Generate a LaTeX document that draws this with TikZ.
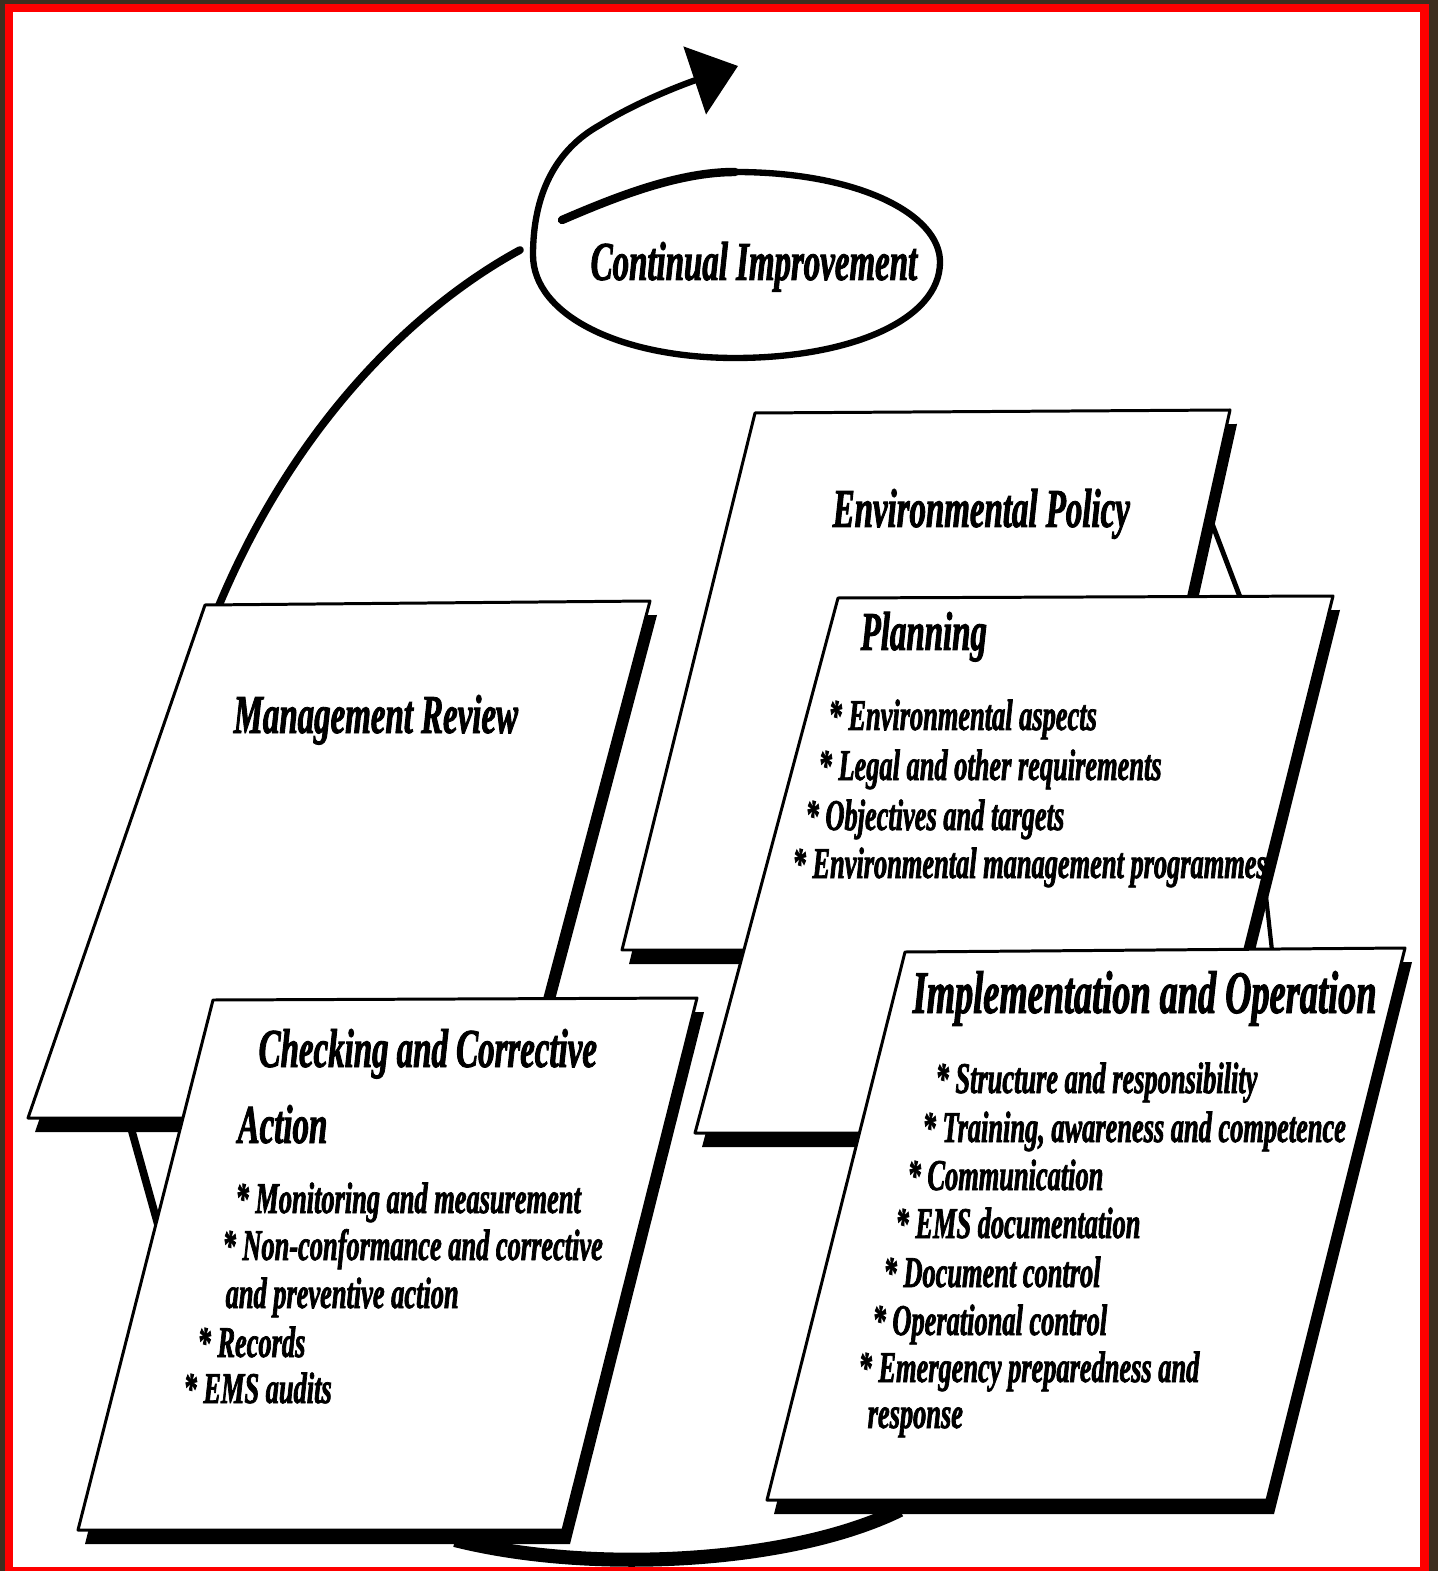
\documentclass[tikz,border=0pt]{standalone}
\usepackage{fontspec}
\newfontfamily\scanfont[FakeStretch=0.6, FakeBold=1.6]{Liberation Serif}
\usetikzlibrary{arrows.meta}

\definecolor{frame}{HTML}{3F2E1F}

\tikzset{
  panel/.style={fill=white, draw=black, line width=0.85pt, line join=round},
  shade/.style={fill=black, shift={(7,14)}},
  loop/.style={line width=2pt, line cap=round},
  head/.style={anchor=base west, inner sep=0pt,
    font=\scanfont\bfseries\itshape\fontsize{15.6}{18}\selectfont},
  item/.style={anchor=base west, inner sep=0pt,
    font=\scanfont\bfseries\itshape\fontsize{12.5}{15}\selectfont},
}

\begin{document}
\begin{tikzpicture}[x=0.01cm, y=-0.01cm]
  \useasboundingbox (0,0) rectangle (1438,1571);
  \fill[frame] (0,0) rectangle (1438,1571);
  \fill[red] (5,4) rectangle (1429,1571);
  \fill[white] (13,12) rectangle (1420,1567);

  % continual improvement loop
  \draw[line width=2.4pt, line cap=round] (562,220) .. controls (620,195) and (680,172) .. (735,172);
  \draw[line width=1.8pt, line cap=round, -{Triangle[length=13pt, width=20pt]}]
    (735,172) .. controls (860,172) and (940,215) .. (940,262)
    .. controls (940,320) and (850,358) .. (735,358)
    .. controls (620,358) and (533,315) .. (533,255)
    .. controls (533,195) and (555,150) .. (600,125)
    .. controls (640,100) and (690,82) .. (738,66);
  \node[head, anchor=base west] (ci) at (590,280) {Continual Improvement};

  % the cycle between the panels
  \draw[loop, line width=2.2pt] (215,615) .. controls (290,430) and (410,310) .. (520,250);
  \draw[loop, line width=1.4pt] (1205,505) -- (1243,605);
  \draw[loop, line width=1.2pt] (1262,860) -- (1273,960);
  \draw[loop, line width=2.2pt] (126,1110) -- (160,1232);
  \draw[line width=4pt] (455,1540) .. controls (590,1574) and (790,1564) .. (900,1510);

  % management review
  \fill[shade] (205,605) -- (650,601) -- (513,1118) -- (28,1118) -- cycle;
  \draw[panel] (205,605) -- (650,601) -- (513,1118) -- (28,1118) -- cycle;
  \node[head] (mr) at (233,733) {Management Review};

  % environmental policy
  \fill[shade] (755,413) -- (1230,410) -- (1110,950) -- (622,950) -- cycle;
  \draw[panel] (755,413) -- (1230,410) -- (1110,950) -- (622,950) -- cycle;
  \node[head] (ep) at (832,527) {Environmental Policy};

  % planning
  \fill[shade] (838,598) -- (1333,596) -- (1199,1133) -- (695,1133) -- cycle;
  \draw[panel] (838,598) -- (1333,596) -- (1199,1133) -- (695,1133) -- cycle;
  \node[head] (pl) at (860,650) {Planning};
  \foreach \x/\y/\t [count=\i] in {828/730/{* Environmental aspects},
      818/780/{* Legal and other requirements},
      805/830/{* Objectives and targets},
      792/878/{* Environmental management programmes}}
    \node[item] (pl\i) at (\x,\y) {\t};

  % checking and corrective action
  \fill[shade] (213,1000) -- (697,998) -- (563,1530) -- (78,1530) -- cycle;
  \draw[panel] (213,1000) -- (697,998) -- (563,1530) -- (78,1530) -- cycle;
  \node[head] (cc) at (258,1067) {Checking and Corrective};
  \node[head] (cca) at (237,1143) {Action};
  \foreach \x/\y/\t [count=\i] in {235/1213/{* Monitoring and measurement},
      222/1260/{* Non-conformance and corrective},
      225/1308/{and preventive action},
      197/1357/{* Records},
      183/1403/{* EMS audits}}
    \node[item] (cc\i) at (\x,\y) {\t};

  % implementation and operation
  \fill[shade] (905,952) -- (1405,948) -- (1267,1500) -- (767,1500) -- cycle;
  \draw[panel] (905,952) -- (1405,948) -- (1267,1500) -- (767,1500) -- cycle;
  \node[head, font=\scanfont\bfseries\itshape\fontsize{17.2}{20}\selectfont]
    (io) at (912,1013) {Implementation and Operation};
  \foreach \x/\y/\t [count=\i] in {935/1093/{* Structure and responsibility},
      922/1142/{* Training, awareness and competence},
      907/1190/{* Communication},
      895/1238/{* EMS documentation},
      883/1287/{* Document control},
      872/1335/{* Operational control},
      858/1382/{* Emergency preparedness and},
      867/1428/{response}}
    \node[item] (io\i) at (\x,\y) {\t};
\end{tikzpicture}
\end{document}
